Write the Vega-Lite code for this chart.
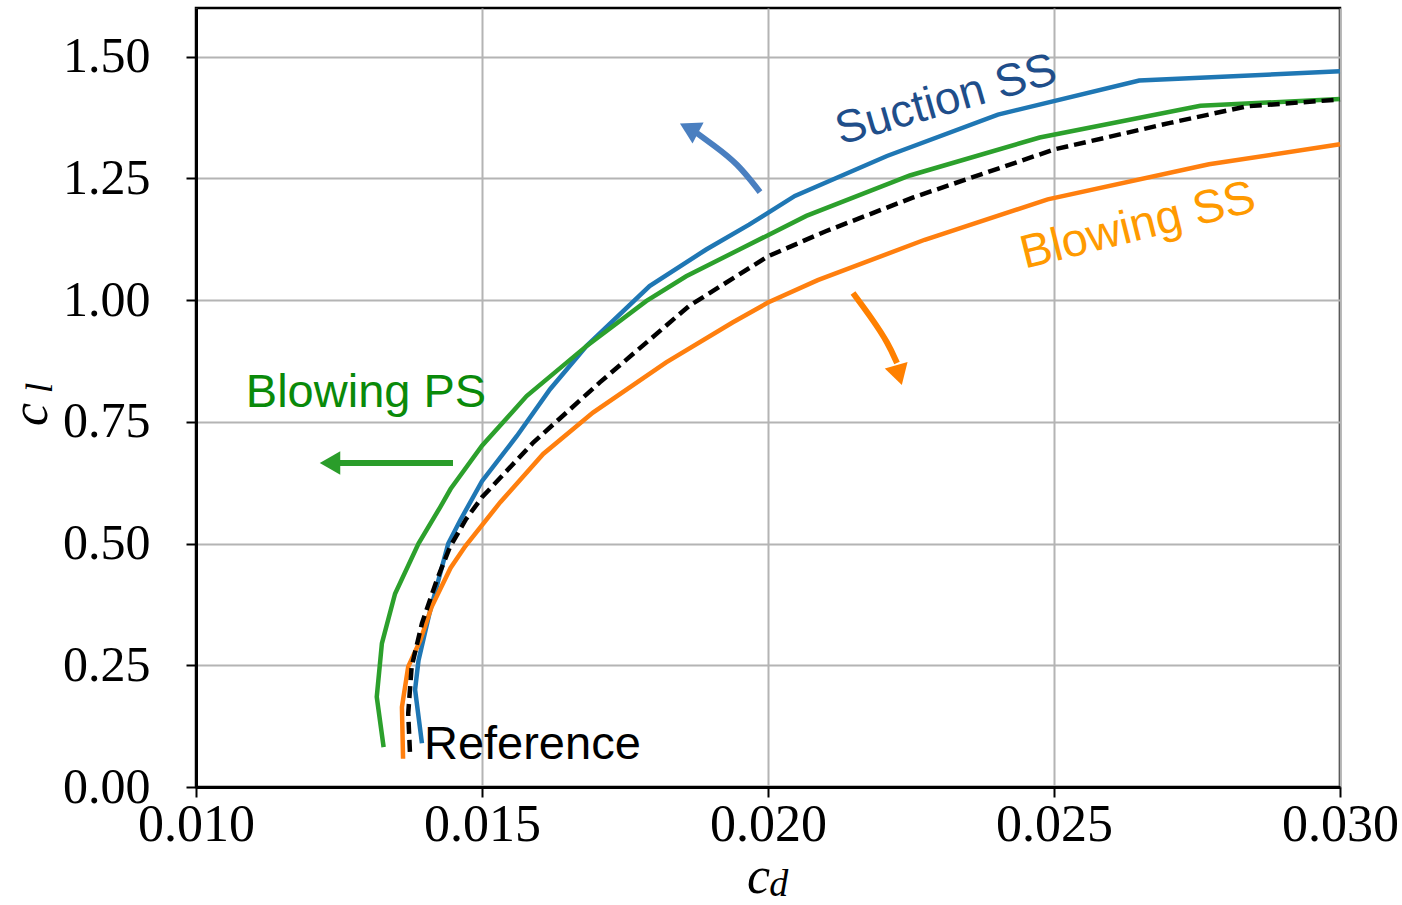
{
  "$schema": "https://vega.github.io/schema/vega-lite/v6.json",
  "width": 1144,
  "height": 779,
  "autosize": {"type": "none"},
  "padding": {"left": 196, "top": 8, "right": 62, "bottom": 118},
  "background": "white",
  "config": {
    "view": {"stroke": "black", "strokeWidth": 2.5},
    "axis": {
      "gridColor": "#b4b4b4",
      "gridWidth": 2,
      "gridOpacity": 1,
      "domainColor": "black",
      "domainWidth": 3,
      "tickColor": "black",
      "tickWidth": 2,
      "tickSize": 10,
      "labelColor": "black",
      "labelFont": "Liberation Serif",
      "labelOverlap": false,
      "labelFlush": false,
      "titleColor": "black",
      "titleFont": "Liberation Serif",
      "titleFontStyle": "italic",
      "titleFontWeight": "normal",
      "titleFontSize": 52
    }
  },
  "datasets": {
    "curves": [
      {"series": "Suction SS", "cd": 0.01395, "cl": 0.09},
      {"series": "Suction SS", "cd": 0.01383, "cl": 0.20},
      {"series": "Suction SS", "cd": 0.01389, "cl": 0.26},
      {"series": "Suction SS", "cd": 0.01408, "cl": 0.356},
      {"series": "Suction SS", "cd": 0.01441, "cl": 0.50},
      {"series": "Suction SS", "cd": 0.01462, "cl": 0.548},
      {"series": "Suction SS", "cd": 0.0150, "cl": 0.628},
      {"series": "Suction SS", "cd": 0.01561, "cl": 0.721},
      {"series": "Suction SS", "cd": 0.01619, "cl": 0.817},
      {"series": "Suction SS", "cd": 0.01683, "cl": 0.906},
      {"series": "Suction SS", "cd": 0.01793, "cl": 1.029},
      {"series": "Suction SS", "cd": 0.01892, "cl": 1.104},
      {"series": "Suction SS", "cd": 0.01967, "cl": 1.155},
      {"series": "Suction SS", "cd": 0.02047, "cl": 1.214},
      {"series": "Suction SS", "cd": 0.02208, "cl": 1.296},
      {"series": "Suction SS", "cd": 0.02402, "cl": 1.381},
      {"series": "Suction SS", "cd": 0.02649, "cl": 1.451},
      {"series": "Suction SS", "cd": 0.0300, "cl": 1.470},

      {"series": "Blowing PS", "cd": 0.01328, "cl": 0.082},
      {"series": "Blowing PS", "cd": 0.01316, "cl": 0.185},
      {"series": "Blowing PS", "cd": 0.01325, "cl": 0.295},
      {"series": "Blowing PS", "cd": 0.01348, "cl": 0.397},
      {"series": "Blowing PS", "cd": 0.01389, "cl": 0.50},
      {"series": "Blowing PS", "cd": 0.01427, "cl": 0.575},
      {"series": "Blowing PS", "cd": 0.01445, "cl": 0.612},
      {"series": "Blowing PS", "cd": 0.0150, "cl": 0.701},
      {"series": "Blowing PS", "cd": 0.01578, "cl": 0.803},
      {"series": "Blowing PS", "cd": 0.01683, "cl": 0.906},
      {"series": "Blowing PS", "cd": 0.01787, "cl": 0.998},
      {"series": "Blowing PS", "cd": 0.01857, "cl": 1.049},
      {"series": "Blowing PS", "cd": 0.0195, "cl": 1.104},
      {"series": "Blowing PS", "cd": 0.02067, "cl": 1.173},
      {"series": "Blowing PS", "cd": 0.02248, "cl": 1.256},
      {"series": "Blowing PS", "cd": 0.02475, "cl": 1.334},
      {"series": "Blowing PS", "cd": 0.02756, "cl": 1.399},
      {"series": "Blowing PS", "cd": 0.0300, "cl": 1.413},

      {"series": "Blowing SS", "cd": 0.01362, "cl": 0.058},
      {"series": "Blowing SS", "cd": 0.01360, "cl": 0.164},
      {"series": "Blowing SS", "cd": 0.01371, "cl": 0.247},
      {"series": "Blowing SS", "cd": 0.01392, "cl": 0.301},
      {"series": "Blowing SS", "cd": 0.01412, "cl": 0.37},
      {"series": "Blowing SS", "cd": 0.01445, "cl": 0.45},
      {"series": "Blowing SS", "cd": 0.01471, "cl": 0.495},
      {"series": "Blowing SS", "cd": 0.01532, "cl": 0.585},
      {"series": "Blowing SS", "cd": 0.01607, "cl": 0.684},
      {"series": "Blowing SS", "cd": 0.01694, "cl": 0.769},
      {"series": "Blowing SS", "cd": 0.01822, "cl": 0.872},
      {"series": "Blowing SS", "cd": 0.01938, "cl": 0.954},
      {"series": "Blowing SS", "cd": 0.0200, "cl": 0.995},
      {"series": "Blowing SS", "cd": 0.02087, "cl": 1.041},
      {"series": "Blowing SS", "cd": 0.02274, "cl": 1.124},
      {"series": "Blowing SS", "cd": 0.02489, "cl": 1.207},
      {"series": "Blowing SS", "cd": 0.02771, "cl": 1.279},
      {"series": "Blowing SS", "cd": 0.0300, "cl": 1.32},

      {"series": "Reference", "cd": 0.01374, "cl": 0.072},
      {"series": "Reference", "cd": 0.01371, "cl": 0.151},
      {"series": "Reference", "cd": 0.01377, "cl": 0.247},
      {"series": "Reference", "cd": 0.01395, "cl": 0.336},
      {"series": "Reference", "cd": 0.01421, "cl": 0.425},
      {"series": "Reference", "cd": 0.01444, "cl": 0.493},
      {"series": "Reference", "cd": 0.01472, "cl": 0.55},
      {"series": "Reference", "cd": 0.0150, "cl": 0.595},
      {"series": "Reference", "cd": 0.0159, "cl": 0.708},
      {"series": "Reference", "cd": 0.01706, "cl": 0.831},
      {"series": "Reference", "cd": 0.01862, "cl": 0.988},
      {"series": "Reference", "cd": 0.0200, "cl": 1.09},
      {"series": "Reference", "cd": 0.0210, "cl": 1.141},
      {"series": "Reference", "cd": 0.02254, "cl": 1.211},
      {"series": "Reference", "cd": 0.02502, "cl": 1.31},
      {"series": "Reference", "cd": 0.02703, "cl": 1.364},
      {"series": "Reference", "cd": 0.02837, "cl": 1.398},
      {"series": "Reference", "cd": 0.0300, "cl": 1.412}
    ],
    "arrows": [
      {"arrow": "blue", "cd": 0.01986, "cl": 1.222},
      {"arrow": "blue", "cd": 0.019458, "cl": 1.282},
      {"arrow": "blue", "cd": 0.019038, "cl": 1.319},
      {"arrow": "blue", "cd": 0.018759, "cl": 1.343},
      {"arrow": "orange", "cd": 0.021486, "cl": 1.0146},
      {"arrow": "orange", "cd": 0.021836, "cl": 0.9591},
      {"arrow": "orange", "cd": 0.022098, "cl": 0.9119},
      {"arrow": "orange", "cd": 0.022255, "cl": 0.8708},
      {"arrow": "green", "cd": 0.014493, "cl": 0.6654},
      {"arrow": "green", "cd": 0.012517, "cl": 0.6654}
    ],
    "heads": [
      {"arrow": "blue", "cd": 0.018619, "cl": 1.353},
      {"arrow": "orange", "cd": 0.02229, "cl": 0.846},
      {"arrow": "green", "cd": 0.012343, "cl": 0.6654}
    ]
  },
  "encoding": {
    "x": {
      "field": "cd",
      "type": "quantitative",
      "scale": {"domain": [0.010, 0.030], "nice": false, "zero": false},
      "axis": {
        "values": [0.010, 0.015, 0.020, 0.025, 0.030],
        "format": ".3f",
        "labelFontSize": 52,
        "labelPadding": 2,
        "title": "c",
        "titleX": 562,
        "titleY": 105,
        "titleAlign": "center",
        "titleBaseline": "alphabetic"
      }
    },
    "y": {
      "field": "cl",
      "type": "quantitative",
      "scale": {"domain": [0, 1.6], "nice": false},
      "axis": {
        "values": [0, 0.25, 0.5, 0.75, 1.0, 1.25, 1.5],
        "format": ".2f",
        "labelFontSize": 50,
        "labelPadding": 36,
        "title": "c",
        "titleX": -150,
        "titleY": 406,
        "titleAngle": 270,
        "titleAlign": "center",
        "titleBaseline": "alphabetic"
      }
    }
  },
  "layer": [
    {
      "data": {"name": "curves"},
      "transform": [{"filter": "datum.series === 'Suction SS'"}],
      "mark": {"type": "line", "color": "#1f77b4", "strokeWidth": 4.5},
      "encoding": {"order": {"value": null}}
    },
    {
      "data": {"name": "curves"},
      "transform": [{"filter": "datum.series === 'Blowing SS'"}],
      "mark": {"type": "line", "color": "#ff7f0e", "strokeWidth": 4.5},
      "encoding": {"order": {"value": null}}
    },
    {
      "data": {"name": "curves"},
      "transform": [{"filter": "datum.series === 'Blowing PS'"}],
      "mark": {"type": "line", "color": "#2ca02c", "strokeWidth": 4.5},
      "encoding": {"order": {"value": null}}
    },
    {
      "data": {"name": "curves"},
      "transform": [{"filter": "datum.series === 'Reference'"}],
      "mark": {"type": "line", "color": "black", "strokeWidth": 4.5, "strokeDash": [12, 6]},
      "encoding": {"order": {"value": null}}
    },
    {
      "data": {"name": "arrows"},
      "transform": [{"filter": "datum.arrow === 'blue'"}],
      "mark": {"type": "line", "color": "#4a7fc0", "strokeWidth": 6, "interpolate": "basis"},
      "encoding": {"order": {"value": null}}
    },
    {
      "data": {"name": "arrows"},
      "transform": [{"filter": "datum.arrow === 'orange'"}],
      "mark": {"type": "line", "color": "#ff8000", "strokeWidth": 6, "interpolate": "basis"},
      "encoding": {"order": {"value": null}}
    },
    {
      "data": {"name": "arrows"},
      "transform": [{"filter": "datum.arrow === 'green'"}],
      "mark": {"type": "line", "color": "#2a9d2a", "strokeWidth": 6},
      "encoding": {"order": {"value": null}}
    },
    {
      "data": {"name": "heads"},
      "transform": [{"filter": "datum.arrow === 'blue'"}],
      "mark": {"type": "point", "shape": "triangle-up", "filled": true, "opacity": 1, "color": "#4a7fc0", "size": 560, "angle": 298}
    },
    {
      "data": {"name": "heads"},
      "transform": [{"filter": "datum.arrow === 'orange'"}],
      "mark": {"type": "point", "shape": "triangle-up", "filled": true, "opacity": 1, "color": "#ff8000", "size": 560, "angle": 164}
    },
    {
      "data": {"name": "heads"},
      "transform": [{"filter": "datum.arrow === 'green'"}],
      "mark": {"type": "point", "shape": "triangle-up", "filled": true, "opacity": 1, "color": "#2a9d2a", "size": 560, "angle": 270}
    },
    {
      "data": {"values": [{"cd": 0.023112, "cl": 1.411, "label": "Suction SS"}]},
      "mark": {"type": "text", "font": "Liberation Sans", "fontSize": 46, "color": "#1f4e8a", "angle": 344, "align": "center", "baseline": "middle"},
      "encoding": {"text": {"field": "label"}}
    },
    {
      "data": {"values": [{"cd": 0.026469, "cl": 1.152, "label": "Blowing SS"}]},
      "mark": {"type": "text", "font": "Liberation Sans", "fontSize": 47, "color": "#ff9a00", "angle": 346, "align": "center", "baseline": "middle"},
      "encoding": {"text": {"field": "label"}}
    },
    {
      "data": {"values": [{"cd": 0.012972, "cl": 0.809, "label": "Blowing PS"}]},
      "mark": {"type": "text", "font": "Liberation Sans", "fontSize": 47, "color": "#0a8a0a", "align": "center", "baseline": "middle"},
      "encoding": {"text": {"field": "label"}}
    },
    {
      "data": {"values": [{"cd": 0.013985, "cl": 0.0863, "label": "Reference"}]},
      "mark": {"type": "text", "font": "Liberation Sans", "fontSize": 47, "color": "black", "align": "left", "baseline": "middle"},
      "encoding": {"text": {"field": "label"}}
    },
    {
      "data": {"values": [{"cd": 0.02019, "cl": -0.224, "label": "d"}]},
      "mark": {"type": "text", "font": "Liberation Serif", "fontStyle": "italic", "fontSize": 38, "color": "black", "align": "center", "baseline": "alphabetic"},
      "encoding": {"text": {"field": "label"}}
    },
    {
      "data": {"values": [{"cd": 0.007483, "cl": 0.8195, "label": "l"}]},
      "mark": {"type": "text", "font": "Liberation Serif", "fontStyle": "italic", "fontSize": 38, "color": "black", "align": "center", "baseline": "alphabetic", "angle": 270},
      "encoding": {"text": {"field": "label"}}
    }
  ]
}
